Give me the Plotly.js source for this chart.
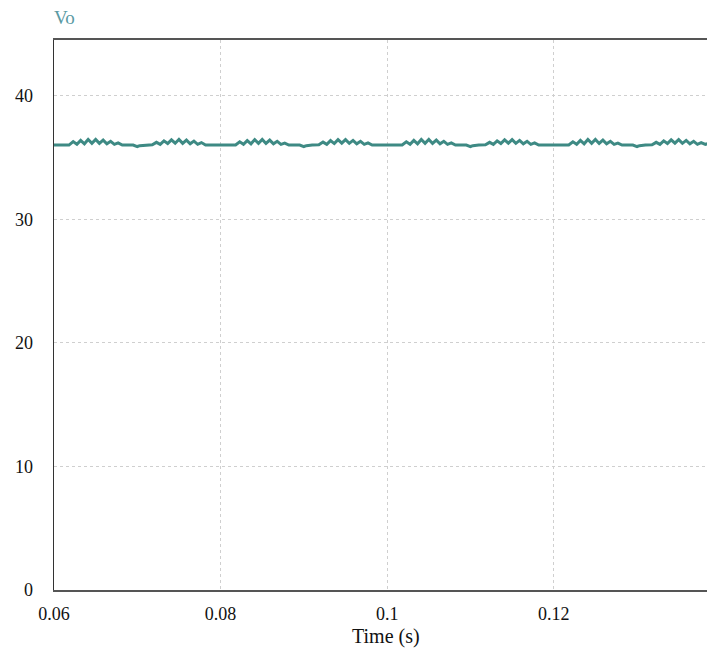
<!DOCTYPE html>
<html>
<head>
<meta charset="utf-8">
<script src="https://cdn.plot.ly/plotly-3.0.1.min.js"></script>
<style>html,body{margin:0;padding:0;background:#fff;}#chart{width:707px;height:648px;}</style>
</head>
<body>
<div id="chart"></div>
<script>
// Time samples (s)
var timeS = [
  0.0600, 0.0618, 0.0623, 0.06275, 0.0632, 0.06365, 0.0641, 0.06455, 0.0650, 0.06545, 0.0659, 0.06635, 0.0668, 0.06725, 0.0677, 0.0682,
  0.0695, 0.0700, 0.0703, 0.0710,
  0.0718, 0.0723, 0.07275, 0.0732, 0.07365, 0.0741, 0.07455, 0.0750, 0.07545, 0.0759, 0.07635, 0.0768, 0.07725, 0.0777, 0.0782,
  0.0818, 0.0823, 0.08275, 0.0832, 0.08365, 0.0841, 0.08455, 0.0850, 0.08545, 0.0859, 0.08635, 0.0868, 0.08725, 0.0877, 0.0882,
  0.0895, 0.0900, 0.0903, 0.0910,
  0.0918, 0.0923, 0.09275, 0.0932, 0.09365, 0.0941, 0.09455, 0.0950, 0.09545, 0.0959, 0.09635, 0.0968, 0.09725, 0.0977, 0.0982,
  0.1018, 0.1023, 0.10275, 0.1032, 0.10365, 0.1041, 0.10455, 0.1050, 0.10545, 0.1059, 0.10635, 0.1068, 0.10725, 0.1077, 0.1082,
  0.1095, 0.1100, 0.1103, 0.1110,
  0.1118, 0.1123, 0.11275, 0.1132, 0.11365, 0.1141, 0.11455, 0.1150, 0.11545, 0.1159, 0.11635, 0.1168, 0.11725, 0.1177, 0.1182,
  0.1218, 0.1223, 0.12275, 0.1232, 0.12365, 0.1241, 0.12455, 0.1250, 0.12545, 0.1259, 0.12635, 0.1268, 0.12725, 0.1277, 0.1282,
  0.1295, 0.1300, 0.1303, 0.1310,
  0.1318, 0.1323, 0.13275, 0.1332, 0.13365, 0.1341, 0.13455, 0.1350, 0.13545, 0.1359, 0.13635, 0.1368, 0.13725, 0.1377, 0.1382, 0.1385
];
// Output voltage Vo (V)
var voV = [
  36.00, 36.00, 36.28, 36.06, 36.38, 36.10, 36.45, 36.14, 36.46, 36.14, 36.40, 36.10, 36.30, 36.06, 36.18, 36.00,
  36.00, 35.88, 35.95, 36.00,
  36.02, 36.22, 36.06, 36.34, 36.12, 36.42, 36.15, 36.45, 36.14, 36.40, 36.10, 36.32, 36.06, 36.20, 36.00,
  36.00, 36.26, 36.06, 36.36, 36.10, 36.44, 36.14, 36.46, 36.13, 36.40, 36.10, 36.30, 36.06, 36.16, 36.00,
  36.00, 35.88, 35.95, 36.00,
  36.02, 36.24, 36.06, 36.36, 36.12, 36.44, 36.15, 36.44, 36.14, 36.38, 36.10, 36.30, 36.06, 36.18, 36.00,
  36.00, 36.26, 36.06, 36.38, 36.10, 36.45, 36.14, 36.46, 36.13, 36.40, 36.10, 36.30, 36.06, 36.18, 36.00,
  36.00, 35.88, 35.95, 36.00,
  36.02, 36.22, 36.06, 36.34, 36.12, 36.42, 36.15, 36.44, 36.14, 36.38, 36.10, 36.30, 36.06, 36.18, 36.00,
  36.00, 36.26, 36.06, 36.38, 36.10, 36.45, 36.14, 36.45, 36.13, 36.40, 36.10, 36.30, 36.06, 36.16, 36.00,
  36.00, 35.88, 35.95, 36.00,
  36.02, 36.22, 36.06, 36.34, 36.12, 36.42, 36.15, 36.44, 36.14, 36.38, 36.10, 36.30, 36.06, 36.20, 36.05, 36.12
];
var xTicks = [0.06, 0.08, 0.1, 0.12];
var xTickLabels = ["0.06", "0.08", "0.1", "0.12"];
var yTicks = [0, 10, 20, 30, 40];
var yTickLabels = ["0", "10", "20", "30", "40"];

var serif = "Liberation Serif, Times New Roman, serif";
var trace = {
  x: timeS, y: voV, type: "scatter", mode: "lines",
  line: {color: "#3e8a84", width: 3}, hoverinfo: "skip", showlegend: false
};
var layout = {
  width: 707, height: 648,
  margin: {l: 54, r: 0, t: 40, b: 58},
  paper_bgcolor: "#fff", plot_bgcolor: "#fff",
  font: {family: serif, size: 18, color: "#111"},
  title: {text: "Vo", x: 54/707, xref: "container", xanchor: "left", y: 1 - 17/648, yref: "container", yanchor: "middle",
          font: {family: serif, size: 19, color: "#5a9aa3"}},
  xaxis: {
    range: [0.06, 0.1384], tickvals: xTicks, ticktext: xTickLabels, ticks: "",
    tickfont: {family: serif, size: 18, color: "#111"},
    showgrid: true, gridcolor: "#cfcfcf", griddash: "3px,3px", gridwidth: 1,
    showline: true, linecolor: "#555", linewidth: 2, mirror: true, zeroline: false,
    ticklabelstandoff: 6
  },
  yaxis: {
    range: [0, 44.5], tickvals: yTicks, ticktext: yTickLabels, ticks: "",
    tickfont: {family: serif, size: 18, color: "#111"},
    showgrid: true, gridcolor: "#cfcfcf", griddash: "3px,3px", gridwidth: 1,
    showline: true, linecolor: "#333", linewidth: 1.5, zeroline: false,
    ticklabelstandoff: 16
  },
  annotations: [{
    text: "Time (s)", xref: "paper", x: (386 - 54) / 653, xanchor: "center",
    yref: "paper", y: -46 / 550, yanchor: "middle", showarrow: false,
    font: {family: serif, size: 20, color: "#111"}
  }]
};
Plotly.newPlot("chart", [trace], layout, {staticPlot: true, displayModeBar: false});
</script>
</body>
</html>
